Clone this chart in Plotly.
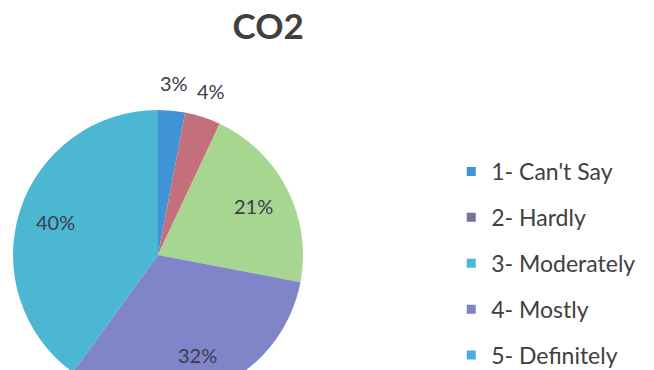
import math
import plotly.graph_objects as go

# Survey responses for CO2
categories = ["1- Can't Say", "2- Hardly", "3- Moderately", "4- Mostly", "5- Definitely"]
shares = [3, 4, 21, 32, 40]
slice_colors = ["#3f93d6", "#c4707c", "#a6d690", "#8084c9", "#4cb7d3"]
legend_colors = ["#3f93d6", "#7c6f9e", "#4cb9d2", "#8083c8", "#4aaae6"]

W, H = 654, 410
pie_x = [0.0199, 0.4633]
pie_y = [0.0244, 0.7317]

fig = go.Figure()

fig.add_trace(go.Pie(
    labels=categories,
    values=shares,
    sort=False,
    direction="clockwise",
    rotation=0,
    marker=dict(colors=slice_colors, line=dict(width=0)),
    textinfo="none",
    showlegend=False,
    domain=dict(x=pie_x, y=pie_y),
    hoverinfo="label+percent",
))

# Percentage labels placed along each slice's middle angle
cx = (pie_x[0] + pie_x[1]) / 2 * W
cy = H - (pie_y[0] + pie_y[1]) / 2 * H
radius = min((pie_x[1] - pie_x[0]) * W, (pie_y[1] - pie_y[0]) * H) / 2
total = sum(shares)
running = 0
for v in shares:
    theta = 2 * math.pi * (running + v / 2) / total
    running += v
    k = 0.74 if v >= 10 else 1.19
    px = cx + k * radius * math.sin(theta)
    py = cy - k * radius * math.cos(theta)
    fig.add_annotation(
        x=px / W, y=1 - py / H, xref="paper", yref="paper",
        text=f"{v}%", showarrow=False,
        xanchor="center", yanchor="middle",
        font=dict(family="Lato", size=20, color="#3c3c4c"),
    )

# Legend entries
for name, col in zip(categories, legend_colors):
    fig.add_trace(go.Scatter(
        x=[None], y=[None],
        mode="markers",
        name=name,
        legendgroup=name,
        marker=dict(symbol="square", size=9, color=col),
        showlegend=True,
    ))

fig.update_layout(
    width=W,
    height=H,
    margin=dict(l=0, r=0, t=0, b=0),
    paper_bgcolor="white",
    plot_bgcolor="white",
    title=dict(text="<b>CO2</b>", x=0.41, xanchor="center", y=1 - 27 / H, yanchor="middle",
               font=dict(family="Lato", size=35, color="#404040")),
    xaxis=dict(visible=False),
    yaxis=dict(visible=False),
    legend=dict(
        x=0.69, y=1 - 150 / H, xanchor="left", yanchor="top",
        font=dict(family="Lato", size=23, color="#404040"),
        tracegroupgap=13,
        itemwidth=30,
        bgcolor="rgba(0,0,0,0)",
    ),
)

fig.write_html(
    "out.html",
    post_script="document.documentElement.style.overflow='hidden';document.body.style.overflow='hidden';",
)
